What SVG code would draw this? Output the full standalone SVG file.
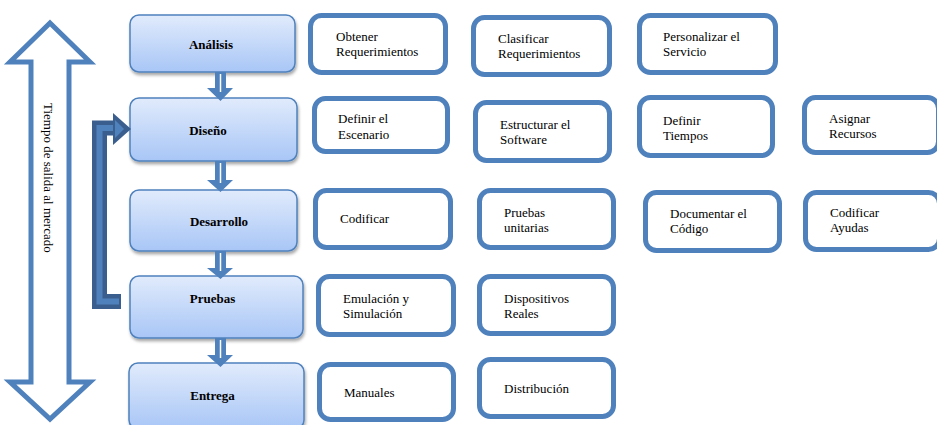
<svg xmlns="http://www.w3.org/2000/svg" width="937" height="425" viewBox="0 0 937 425">
  <defs>
    <linearGradient id="phaseFill" x1="0" y1="0" x2="0" y2="1">
      <stop offset="0" stop-color="#e1ebfc"/>
      <stop offset="1" stop-color="#a8c6f6"/>
    </linearGradient>
    <filter id="softShadow" x="-10%" y="-10%" width="125%" height="135%">
      <feDropShadow dx="1" dy="2.5" stdDeviation="1.6" flood-color="#000" flood-opacity="0.35"/>
    </filter>
  </defs>
  <style>
    .phase rect { fill: url(#phaseFill); stroke: #4f81bd; stroke-width: 1.5; filter: url(#softShadow); }
    .phase text { font-family: "Liberation Serif", "Times New Roman", serif; font-size: 13px; font-weight: bold; fill: #000; text-anchor: middle; }
    .task rect { fill: #fff; stroke: #4f81bd; stroke-width: 5; }
    .task text { font-family: "Liberation Serif", "Times New Roman", serif; font-size: 13px; fill: #000; }
    .down { fill: #4f81bd; }
    .down-hl { stroke: #ffffff; stroke-width: 1.5; }
    .side { font-family: "Liberation Serif", "Times New Roman", serif; font-size: 13px; fill: #000; }
  </style>

  <rect width="937" height="425" fill="#fff"/>

  <!-- double-headed time arrow with rotated caption -->
  <g id="time-axis">
    <polygon points="50,23 90,62 69,62 69,382 90,382 50,419 10,382 31,382 31,62 10,62" fill="#fff" stroke="#4f81bd" stroke-width="5" stroke-linejoin="miter"/>
    <text class="side" transform="translate(44,103) rotate(90)">Tiempo de salida al mercado</text>
  </g>

  <!-- phase boxes -->
  <g id="analisis" class="phase">
    <rect x="130" y="15" width="165" height="57" rx="9"/>
    <text x="211" y="49">Análisis</text>
  </g>
  <g id="diseno" class="phase">
    <rect x="130" y="98" width="167" height="63" rx="9"/>
    <text x="208" y="135">Diseño</text>
  </g>
  <g id="desarrollo" class="phase">
    <rect x="130" y="190" width="167" height="61" rx="9"/>
    <text x="219" y="226">Desarrollo</text>
  </g>
  <g id="pruebas" class="phase">
    <rect x="130" y="276" width="173" height="62" rx="9"/>
    <text x="212.5" y="303">Pruebas</text>
  </g>
  <g id="entrega" class="phase">
    <rect x="129" y="363" width="175" height="66" rx="9"/>
    <text x="212.5" y="400">Entrega</text>
  </g>

  <!-- connectors -->
  <g id="connectors">
    <!-- downward block arrows between phases -->
    <path class="down" d="M215,72 H226 V88 H233 L220.5,101 L207,88 H215 Z"/>
    <line class="down-hl" x1="220.5" y1="74" x2="220.5" y2="92"/>
    <path class="down" d="M215,161 H226 V180 H233 L220.5,192 L207,180 H215 Z"/>
    <line class="down-hl" x1="220.5" y1="163" x2="220.5" y2="183"/>
    <path class="down" d="M215,251 H226 V268 H233 L220.5,279 L207,268 H215 Z"/>
    <line class="down-hl" x1="220.5" y1="253" x2="220.5" y2="271"/>
    <path class="down" d="M215,338 H226 V355 H233 L220.5,367 L207,355 H215 Z"/>
    <line class="down-hl" x1="220.5" y1="340" x2="220.5" y2="358"/>

    <!-- feedback arrow from Pruebas back to Diseño -->
    <path d="M121,301.5 H99.5 V128 H116" fill="none" stroke="#3a5f8e" stroke-width="15" stroke-linejoin="miter"/>
    <path d="M119,301.5 H99.5 V128 H116" fill="none" stroke="#4f81bd" stroke-width="6" stroke-linejoin="miter"/>
    <polygon points="113,113 131,129 113,145" fill="#3a5f8e"/>
    <polygon points="115,120 124,129 115,138" fill="#4f81bd"/>
  </g>

  <!-- task boxes, row Análisis -->
  <g id="obtener-requerimientos" class="task">
    <rect x="310.5" y="15.5" width="135" height="57" rx="11"/>
    <text x="336" y="41">Obtener</text>
    <text x="336" y="56">Requerimientos</text>
  </g>
  <g id="clasificar-requerimientos" class="task">
    <rect x="473.5" y="17.5" width="136" height="57" rx="11"/>
    <text x="498" y="43">Clasificar</text>
    <text x="498" y="58">Requerimientos</text>
  </g>
  <g id="personalizar-servicio" class="task">
    <rect x="639.5" y="15.5" width="136" height="57" rx="11"/>
    <text x="663" y="41">Personalizar el</text>
    <text x="663" y="56">Servicio</text>
  </g>

  <!-- row Diseño -->
  <g id="definir-escenario" class="task">
    <rect x="314.5" y="98.5" width="133" height="53" rx="11"/>
    <text x="338" y="123">Definir el</text>
    <text x="338" y="139">Escenario</text>
  </g>
  <g id="estructurar-software" class="task">
    <rect x="475.5" y="102.5" width="134" height="58" rx="11"/>
    <text x="500" y="129">Estructurar el</text>
    <text x="500" y="144">Software</text>
  </g>
  <g id="definir-tiempos" class="task">
    <rect x="639.5" y="97.5" width="133" height="58" rx="11"/>
    <text x="663" y="125">Definir</text>
    <text x="663" y="140">Tiempos</text>
  </g>
  <g id="asignar-recursos" class="task">
    <rect x="804.5" y="97.5" width="134" height="55" rx="11"/>
    <text x="829" y="123">Asignar</text>
    <text x="829" y="138">Recursos</text>
  </g>

  <!-- row Desarrollo -->
  <g id="codificar" class="task">
    <rect x="315.5" y="190.5" width="135" height="57" rx="11"/>
    <text x="340" y="223">Codificar</text>
  </g>
  <g id="pruebas-unitarias" class="task">
    <rect x="479.5" y="190.5" width="134" height="57" rx="11"/>
    <text x="504" y="217">Pruebas</text>
    <text x="504" y="232">unitarias</text>
  </g>
  <g id="documentar-codigo" class="task">
    <rect x="645.5" y="192.5" width="134" height="58" rx="11"/>
    <text x="670" y="218">Documentar el</text>
    <text x="670" y="233">Código</text>
  </g>
  <g id="codificar-ayudas" class="task">
    <rect x="805.5" y="192.5" width="134" height="57" rx="11"/>
    <text x="830" y="217">Codificar</text>
    <text x="830" y="232">Ayudas</text>
  </g>

  <!-- row Pruebas -->
  <g id="emulacion-simulacion" class="task">
    <rect x="318.5" y="276.5" width="135" height="58" rx="11"/>
    <text x="343" y="303">Emulación y</text>
    <text x="343" y="318">Simulación</text>
  </g>
  <g id="dispositivos-reales" class="task">
    <rect x="479.5" y="276.5" width="134" height="57" rx="11"/>
    <text x="504" y="303">Dispositivos</text>
    <text x="504" y="318">Reales</text>
  </g>

  <!-- row Entrega -->
  <g id="manuales" class="task">
    <rect x="319.5" y="364.5" width="134" height="55" rx="11"/>
    <text x="344" y="397">Manuales</text>
  </g>
  <g id="distribucion" class="task">
    <rect x="479.5" y="359.5" width="134" height="57" rx="11"/>
    <text x="504" y="393">Distribución</text>
  </g>
</svg>
